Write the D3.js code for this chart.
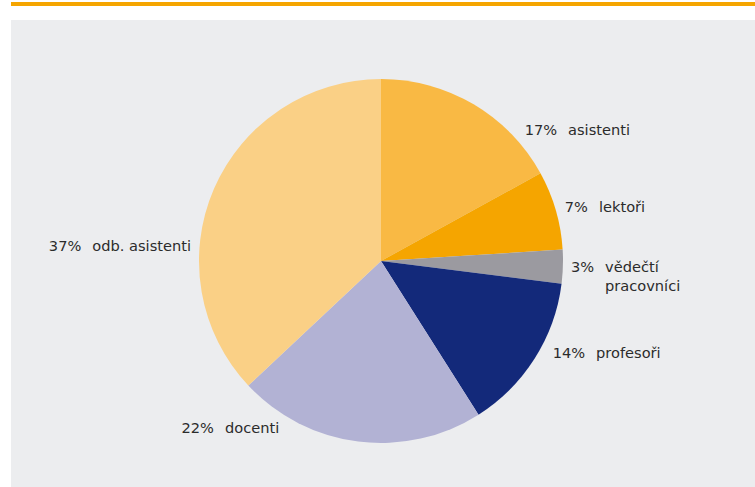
<!DOCTYPE html>
<html>
<head>
<meta charset="utf-8">
<script src="https://cdn.jsdelivr.net/npm/d3@7"></script>
<style>
  html, body { margin: 0; padding: 0; background: #ffffff; }
  svg { display: block; }
</style>
</head>
<body>
<svg id="chart" width="755" height="487"></svg>
<script>
// Data
const categories = ["asistenti", "lektoři", "vědečtí pracovníci", "profesoři", "docenti", "odb. asistenti"];
const values = [17, 7, 3, 14, 22, 37];
const percentLabels = ["17%", "7%", "3%", "14%", "22%", "37%"];
const nameLines = [["asistenti"], ["lektoři"], ["vědečtí", "pracovníci"], ["profesoři"], ["docenti"], ["odb. asistenti"]];
const colors = ["#F9B944", "#F5A500", "#9B9AA0", "#13297A", "#B2B2D4", "#FAD086"];

const W = 755, H = 487;
const svg = d3.select("#chart");
const FONT = "'DejaVu Sans', sans-serif", FS = 14.6, GAP = 11;

// top orange rule
svg.append("rect").attr("x", 11).attr("y", 2).attr("width", W - 11).attr("height", 4).attr("fill", "#F5A500");
// panel
svg.append("rect").attr("x", 11).attr("y", 20).attr("width", W - 11).attr("height", H - 20).attr("fill", "#ECEDEF");

const cx = 381, cy = 261, R = 182;
const pie = d3.pie().value(d => d).sort(null);
const arcs = pie(values);
const arc = d3.arc().innerRadius(0).outerRadius(R);

const g = svg.append("g").attr("transform", `translate(${cx},${cy})`);
g.selectAll("path").data(arcs).enter().append("path")
  .attr("d", arc)
  .attr("fill", (d, i) => colors[i]);

// label placement relative to the outer point at mid-angle
const labelOffsets = [[51, 31], [9, 2], [8, 5], [18, -1], [-79, -9], [-23, 62]];
const anchors = ["start", "start", "start", "start", "end", "end"];

arcs.forEach((d, i) => {
  const a = (d.startAngle + d.endAngle) / 2;
  const px = Math.sin(a) * R, py = -Math.cos(a) * R;
  const x = px + labelOffsets[i][0], y = py + labelOffsets[i][1];
  const t = g.append("text")
    .attr("x", x).attr("y", y)
    .attr("text-anchor", anchors[i])
    .attr("font-family", FONT)
    .attr("font-size", FS)
    .attr("fill", "#2b2b2b");
  t.append("tspan").text(percentLabels[i]);
  t.append("tspan").attr("dx", GAP).text(nameLines[i][0]);
  if (nameLines[i].length > 1) {
    const tmp = g.append("text").attr("font-family", FONT).attr("font-size", FS)
      .text(percentLabels[i]);
    const off = tmp.node().getComputedTextLength() + GAP;
    tmp.remove();
    t.append("tspan").attr("x", x + off).attr("dy", 19).text(nameLines[i][1]);
  }
});
</script>
</body>
</html>
